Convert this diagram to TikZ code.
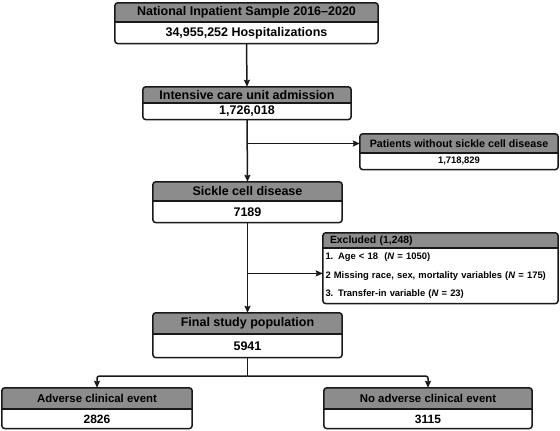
\documentclass[tikz,border=0pt]{standalone}
\usepackage{fontspec}
\setmainfont{Liberation Sans}
\usetikzlibrary{positioning,arrows.meta}

\begin{document}
\begin{tikzpicture}[
  x=1pt, y=-1pt,
  hdr/.style={rectangle, fill=black!45, inner sep=0pt, text centered,
              font=\bfseries\fontsize{12.5}{14}\selectfont},
  cnt/.style={rectangle, inner sep=0pt, text centered,
              font=\bfseries\fontsize{12.5}{14}\selectfont},
  frame/.style={draw=black!90, line width=1.5pt, rounded corners=3pt},
  sep/.style={draw=black!90, line width=1.5pt},
  arr/.style={-{Stealth[length=7pt,width=6pt,inset=1pt]}, line width=1.5pt,
              draw=black!90},
  lin/.style={line width=1.5pt, draw=black!90},
  small/.style={font=\bfseries\fontsize{9.4}{11}\selectfont}
]
\useasboundingbox (0,0) rectangle (560,431);

% main column
\node[hdr, minimum width=263pt, minimum height=19pt] (nis) at (246.5,12.5)
  {National Inpatient Sample 2016--2020};
\node[cnt, minimum width=263pt, minimum height=21pt, below=0pt of nis] (nisn)
  {34,955,252 Hospitalizations};

\node[hdr, minimum width=208pt, minimum height=16pt] (icu) at (247,95)
  {Intensive care unit admission};
\node[cnt, minimum width=208pt, minimum height=16pt, below=0pt of icu] (icun)
  {1,726,018};

\node[hdr, minimum width=189pt, minimum height=19pt] (scd) at (247.5,191.5)
  {Sickle cell disease};
\node[cnt, minimum width=189pt, minimum height=21pt, below=0pt of scd] (scdn)
  {7189};

\node[hdr, minimum width=189pt, minimum height=21pt] (fin) at (247.5,323.5)
  {Final study population};
\node[cnt, minimum width=189pt, minimum height=23pt, below=0pt of fin] (finn)
  {5941};

% side boxes
\node[hdr, minimum width=198pt, minimum height=19pt,
      font=\bfseries\fontsize{10.7}{12}\selectfont] (pat) at (459,143.5)
  {Patients without sickle cell disease};
\node[cnt, small, minimum width=198pt, minimum height=16pt, below=0pt of pat] (patn)
  {1,718,829};

\node[hdr, text width=221pt, inner xsep=7pt, align=left, minimum height=15pt,
      font=\bfseries\fontsize{10.4}{12}\selectfont] (exc) at (440.5,240.5)
  {Excluded (1,248)};
\node[cnt, text width=230pt, inner xsep=2.5pt, align=left, minimum height=55pt,
      font=\bfseries\fontsize{9.4}{18.5}\selectfont, below=0pt of exc] (excn)
  {1. Age < 18~~(\textit{N} = 1050)\\
   2 Missing race, sex, mortality variables (\textit{N} = 175)\\
   3. Transfer-in variable (\textit{N} = 23)};

% outcome boxes
\node[hdr, minimum width=190pt, minimum height=21pt,
      font=\bfseries\fontsize{11.4}{13}\selectfont] (adv) at (97,398.5)
  {Adverse clinical event};
\node[cnt, minimum width=190pt, minimum height=19pt,
      font=\bfseries\fontsize{12}{14}\selectfont, below=0pt of adv] (advn)
  {2826};

\node[hdr, minimum width=208pt, minimum height=21pt,
      font=\bfseries\fontsize{11.4}{13}\selectfont] (noadv) at (428,398.5)
  {No adverse clinical event};
\node[cnt, minimum width=208pt, minimum height=19pt,
      font=\bfseries\fontsize{12}{14}\selectfont, below=0pt of noadv] (noadvn)
  {3115};

% frames
\foreach \h/\b in {nis/nisn, icu/icun, scd/scdn, fin/finn, pat/patn,
                   exc/excn, adv/advn, noadv/noadvn} {
  \draw[frame] (\h.north west) rectangle (\b.south east);
  \draw[sep] (\h.south west) -- (\h.south east);
}

% connectors
\draw[arr] (nisn.south) -- (icu.north);
\draw[arr] (icun.south) -- (scd.north);
\coordinate (b1) at (icun.south |- pat.west);
\draw[arr] (b1) -- (pat.west);

\draw[arr] (scdn.south) -- (fin.north);
\coordinate (b2) at ([yshift=2.5pt]scdn.south |- excn.west);
\draw[arr] (b2) -- (b2 -| excn.west);

\coordinate (fork) at ([yshift=-18.6pt]finn.south);
\draw[lin] (finn.south) -- (fork);
\draw[arr, rounded corners=2pt] (fork) -| (adv.north);
\draw[arr, rounded corners=2pt] (fork) -| (noadv.north);

\end{tikzpicture}
\end{document}
